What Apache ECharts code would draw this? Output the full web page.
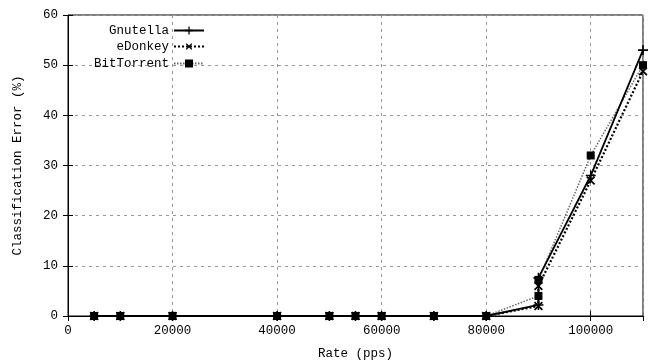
<!DOCTYPE html>
<html><head><meta charset="utf-8">
<script src="https://cdn.jsdelivr.net/npm/echarts@6/dist/echarts.min.js"></script>
<style>html,body{margin:0;padding:0;background:#fff}#c{width:650px;height:361px}</style>
</head><body><div id="c"></div>
<script>
const rates = [5000,10000,20000,40000,50000,55000,60000,70000,80000,90000,90000,100000,110000];
const gnutella = [0,0,0,0,0,0,0,0,0,2.2,7.6,28,53];
const edonkey = [0,0,0,0,0,0,0,0,0,2.0,6.0,27,48.8];
const bittorrent = [0,0,0,0,0,0,0,0,0,4.0,7.2,32,50];
const seriesNames = ['Gnutella','eDonkey','BitTorrent'];
const yTicks = [0,10,20,30,40,50,60];

const font = 'Liberation Mono';
const fs = 12.5;
const pair = v => rates.map((x,i)=>[x, v[i]]);
const plus = 'path://M-0.8,-5H0.8V-0.8H5V0.8H0.8V5H-0.8V0.8H-5V-0.8H-0.8Z';
const chart = echarts.init(document.getElementById('c'));
const gridLine = {show:true, lineStyle:{color:'#999', type:[3,4], width:1}};
const mkLegend = (name, top) => ({
  data:[name], orient:'vertical', right:445, top:top, align:'right',
  itemWidth:30, itemHeight:10, itemGap:4, padding:0,
  textStyle:{fontFamily:font, fontSize:fs, color:'#000'}
});
chart.setOption({
  animation:false,
  backgroundColor:'#fff',
  grid:{left:68, right:7, top:15, bottom:45, show:true, borderColor:'#000', borderWidth:1,
    containLabel:false, outerBoundsMode:'none'},
  legend:[mkLegend('Gnutella',24), mkLegend('eDonkey',40), mkLegend('BitTorrent',57)],
  xAxis:[{
    type:'value', min:0, max:110000, interval:20000,
    name:'Rate (pps)', nameLocation:'middle', nameGap:31,
    nameTextStyle:{fontFamily:font, fontSize:fs, color:'#000'},
    axisLine:{lineStyle:{color:'#000'}},
    axisTick:{inside:true, length:5, lineStyle:{color:'#000'}},
    axisLabel:{fontFamily:font, fontSize:fs, color:'#000', showMaxLabel:false, margin:8,
      formatter: v => String(v)},
    splitLine:gridLine
  },{
    type:'value', min:0, max:110000, interval:20000, position:'top',
    axisLine:{show:false}, axisLabel:{show:false}, splitLine:{show:false},
    axisTick:{inside:true, length:5, lineStyle:{color:'#000'}}
  }],
  yAxis:[{
    type:'value', min:0, max:60, interval:10,
    name:'Classification Error (%)', nameLocation:'middle', nameGap:44,
    nameTextStyle:{fontFamily:font, fontSize:fs, color:'#000'},
    axisLine:{show:true, lineStyle:{color:'#000'}},
    axisTick:{show:true, inside:true, length:5, lineStyle:{color:'#000'}},
    axisLabel:{fontFamily:font, fontSize:fs, color:'#000', margin:10},
    splitLine:gridLine
  },{
    type:'value', min:0, max:60, interval:10, position:'right',
    axisLine:{show:false}, axisLabel:{show:false}, splitLine:{show:false},
    axisTick:{show:true, inside:true, length:5, lineStyle:{color:'#000'}}
  }],
  series:[{
    name:seriesNames[0], type:'line', data:pair(gnutella),
    symbol:plus, symbolSize:10, showAllSymbol:true,
    lineStyle:{color:'#000', width:1.8, type:'solid'},
    itemStyle:{color:'#000'}, z:5
  },{
    name:seriesNames[1], type:'line', data:pair(edonkey),
    symbol:plus, symbolRotate:45, symbolSize:11, showAllSymbol:true,
    lineStyle:{color:'#000', width:2.2, type:[2,2]},
    itemStyle:{color:'#000'}, z:4
  },{
    name:seriesNames[2], type:'line', data:pair(bittorrent),
    symbol:'rect', symbolSize:8, showAllSymbol:true,
    lineStyle:{color:'#666', width:1.5, type:[1.5,1.5]},
    itemStyle:{color:'#000'}, z:3
  }]
});
</script></body></html>
